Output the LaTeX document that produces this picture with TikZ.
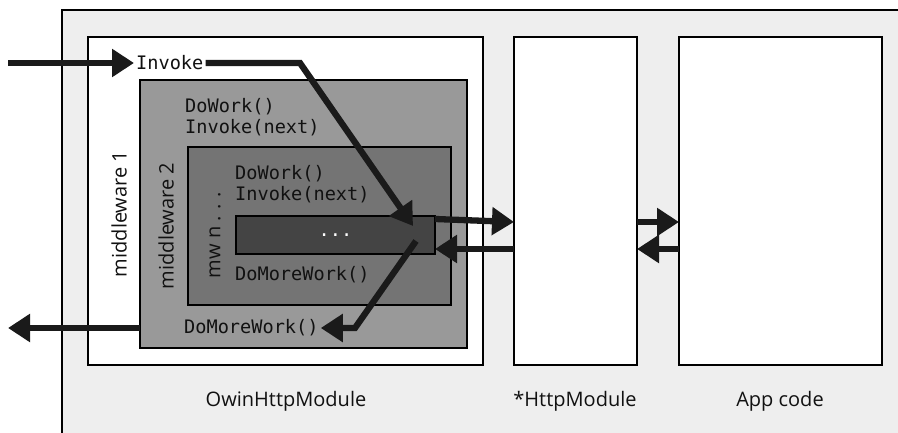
\documentclass[tikz,border=0pt]{standalone}
\usepackage{fontspec}
\setmainfont{Open Sans}
\newfontfamily\codefont{DejaVu Sans Mono}
\usetikzlibrary{arrows.meta,calc}
\definecolor{panel}{HTML}{EEEEEE}
\definecolor{mwone}{HTML}{999999}
\definecolor{mwtwo}{HTML}{747474}
\definecolor{mwn}{HTML}{444444}
\definecolor{ink}{HTML}{1A1A1A}
\definecolor{txt}{HTML}{111111}
\tikzset{
  box/.style={draw=black, line width=2pt, anchor=north west, inner sep=0pt, outer sep=0pt},
  code/.style={font=\codefont\fontsize{18.6}{21.5}\selectfont, text=txt, inner sep=2pt},
  lbl/.style={font=\fontsize{20}{24}\selectfont, text=txt, inner sep=0pt},
  flow/.style={draw=ink, line width=6.3pt, line join=miter,
    -{Triangle[length=22pt,width=27pt]}},
}
\begin{document}
\begin{tikzpicture}[x=1pt,y=-1pt]
\useasboundingbox (0,0) rectangle (898,433);
% outer host panel, running off the right and bottom edges
\fill[panel] (62,10) rectangle (920,450);
\draw[line width=2pt] (62,450) -- (62,10) -- (920,10);

% module boxes
\node[box, fill=white, minimum width=395pt, minimum height=328pt] (owin) at (88,37) {};
\node[box, fill=white, minimum width=123pt, minimum height=328pt] (http) at (514,37) {};
\node[box, fill=white, minimum width=203pt, minimum height=328pt] (app) at (679,37) {};

% nested middleware
\node[box, fill=mwone, minimum width=327pt, minimum height=268pt] (mw1) at (140,80) {};
\node[box, fill=mwtwo, minimum width=263pt, minimum height=158pt] (mw2) at (188,147) {};
\node[box, fill=mwn, minimum width=199pt, minimum height=38pt] (mw3) at (236,216) {};
\node[font=\codefont\fontsize{18.6}{21.5}\selectfont, text=white] (dots) at (mw3.center) {...};

% labels
\node[lbl, rotate=90] (l1) at (119,214) {middleware 1};
\node[lbl, rotate=90] (l2) at (166,226) {middleware 2};
\node[lbl, rotate=90] (l3) at (215,235) {mw n . . .};
\node[lbl] (lo) at (286,401) {OwinHttpModule};
\node[lbl] (lh) at (575,401) {*HttpModule};
\node[lbl] (la) at (780,401) {App code};

\node[code, anchor=west] (inv) at (134,63) {Invoke};
\node[code, anchor=west, align=left] (w1) at (183,117) {DoWork()\\Invoke(next)};
\node[code, anchor=west, align=left] (w2) at (233,184) {DoWork()\\Invoke(next)};
\node[code, anchor=west] (dm2) at (233,275) {DoMoreWork()};
\node[code, anchor=west] (dm1) at (182,328) {DoMoreWork()};

% call flow
\coordinate (start) at (8,63);
\coordinate (bend1) at (300,63);
\coordinate (deep) at (413,226);
\coordinate (back) at (416,241);
\coordinate (bend2) at (355,328);
\coordinate (exit) at (8,328);
\draw[flow] (start) -- (inv.west);
\draw[flow] (inv.east) -- (bend1) -- (deep);
\draw[flow] (back) -- (bend2) -- (dm1.east);
\draw[flow] (mw1.west |- dm1.west) -- (exit);

% hand-off between modules
\draw[flow] ([yshift=-3pt]mw3.north east) -- (http.west |- 0,222);
\draw[flow] (http.west |- 0,249) -- (mw3.east |- 0,249);
\draw[flow] (http.east |- 0,222) -- (app.west |- 0,222);
\draw[flow] (app.west |- 0,249) -- (http.east |- 0,249);
\end{tikzpicture}
\end{document}
